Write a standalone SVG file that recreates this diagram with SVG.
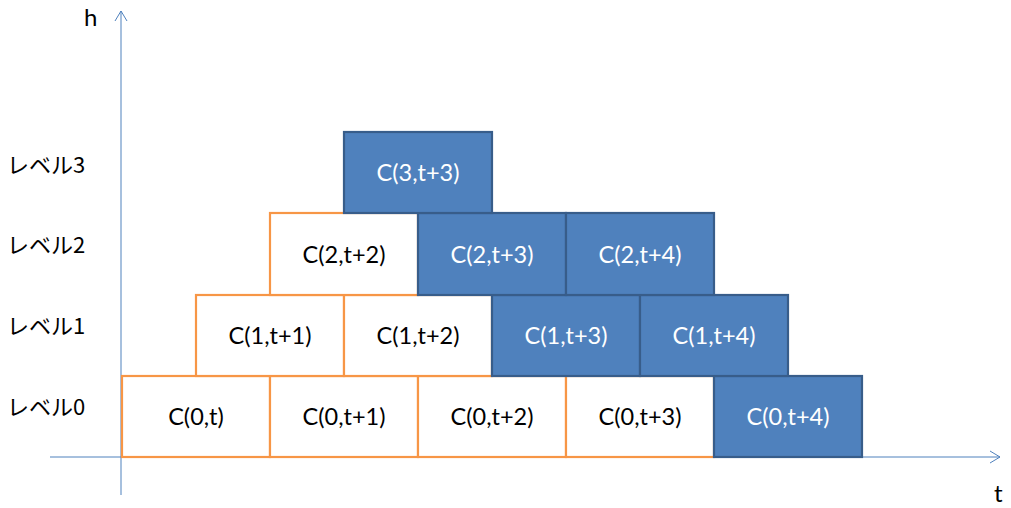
<svg xmlns="http://www.w3.org/2000/svg" width="1011" height="508" viewBox="0 0 1011 508">
<style>
.o{fill:#fff;stroke:#F79646;stroke-width:2.2}
.b{fill:#4F81BD;stroke:#385D8A;stroke-width:2.2}
.t{font-family:Lato,"Noto Sans","Liberation Sans",sans-serif;font-size:23.5px;text-anchor:middle}
.tw{fill:#fff}
.tk{fill:#000}
.ax{stroke:#4F81BD;stroke-width:1;fill:none}
.lb{font-family:"Noto Sans CJK JP","Noto Sans",sans-serif;font-size:22px;fill:#000}
.al{font-family:Lato,"Noto Sans",sans-serif;font-size:24px;fill:#000}
</style>
<rect width="1011" height="508" fill="#fff"/>
<g id="axes">
<line class="ax" x1="121" y1="495" x2="121" y2="11"/>
<polyline class="ax" points="115,21 121,11 127,21"/>
<line class="ax" x1="50" y1="457" x2="1000" y2="457"/>
<polyline class="ax" points="990,451 1000,457 990,463"/>
<text x="84" y="26" class="al">h</text>
<text x="994" y="502" class="al">t</text>
</g>
<g id="labels">
<text class="lb" x="7" y="173">レベル3</text>
<text class="lb" x="7" y="253">レベル2</text>
<text class="lb" x="7" y="334">レベル1</text>
<text class="lb" x="7" y="415">レベル0</text>
</g>
<g id="n00"><rect class="o" x="122" y="376" width="148" height="81"/><text class="t tk" x="196" y="425">C(0,t)</text></g>
<g id="n01"><rect class="o" x="270" y="376" width="148" height="81"/><text class="t tk" x="344" y="425">C(0,t+1)</text></g>
<g id="n02"><rect class="o" x="418" y="376" width="148" height="81"/><text class="t tk" x="492" y="425">C(0,t+2)</text></g>
<g id="n03"><rect class="o" x="566" y="376" width="148" height="81"/><text class="t tk" x="640" y="425">C(0,t+3)</text></g>
<g id="n11"><rect class="o" x="196" y="295" width="148" height="81"/><text class="t tk" x="270" y="344">C(1,t+1)</text></g>
<g id="n12"><rect class="o" x="344" y="295" width="148" height="81"/><text class="t tk" x="418" y="344">C(1,t+2)</text></g>
<g id="n22"><rect class="o" x="270" y="213" width="148" height="82"/><text class="t tk" x="344" y="263">C(2,t+2)</text></g>
<g id="n04"><rect class="b" x="714" y="376" width="148" height="81"/><text class="t tw" x="788" y="425">C(0,t+4)</text></g>
<g id="n13"><rect class="b" x="492" y="295" width="148" height="81"/><text class="t tw" x="566" y="344">C(1,t+3)</text></g>
<g id="n14"><rect class="b" x="640" y="295" width="148" height="81"/><text class="t tw" x="714" y="344">C(1,t+4)</text></g>
<g id="n23"><rect class="b" x="418" y="213" width="148" height="82"/><text class="t tw" x="492" y="263">C(2,t+3)</text></g>
<g id="n24"><rect class="b" x="566" y="213" width="148" height="82"/><text class="t tw" x="640" y="263">C(2,t+4)</text></g>
<g id="n33"><rect class="b" x="344" y="132" width="148" height="81"/><text class="t tw" x="418" y="181">C(3,t+3)</text></g>
</svg>
